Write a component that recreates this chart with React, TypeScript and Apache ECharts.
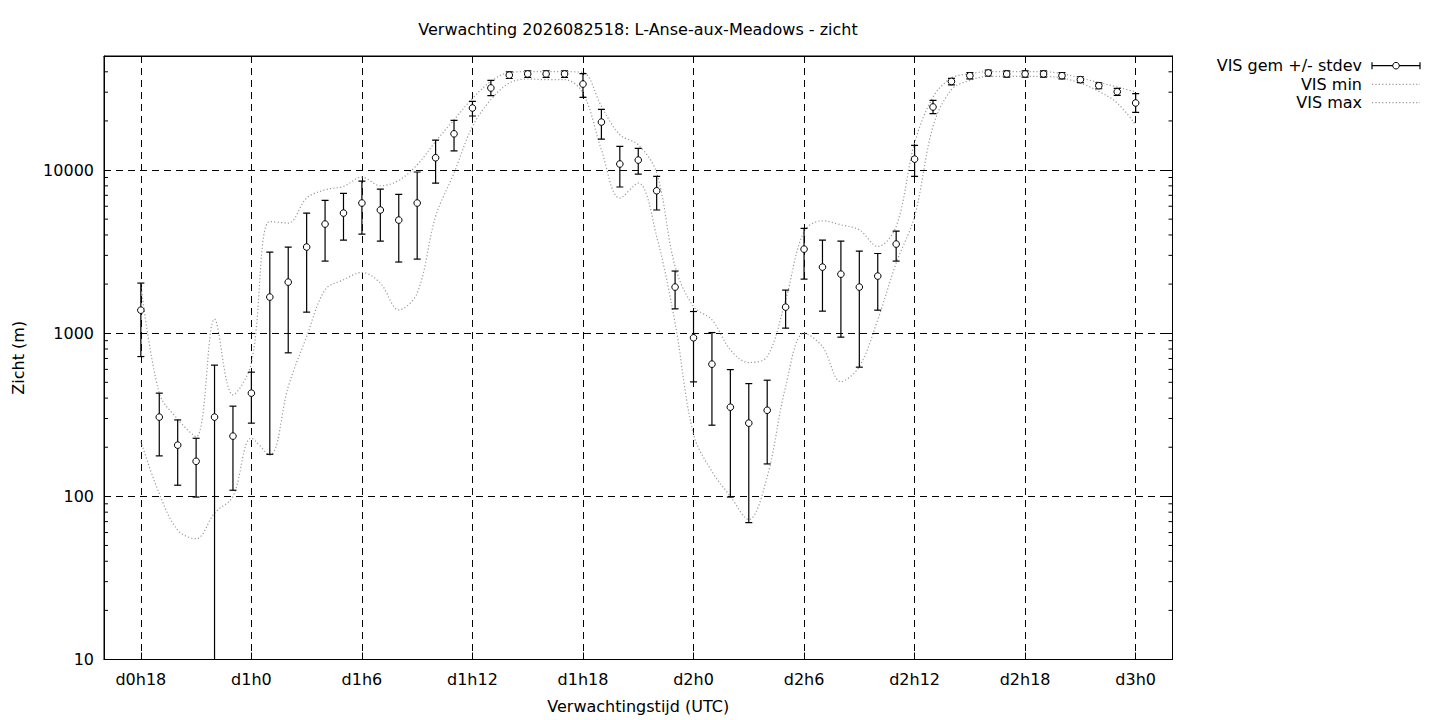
import React, { useEffect, useRef } from "react";
import * as echarts from "echarts";

// x axis categories: forecast hour since d0h0
const axisHours = [
  "16", "17", "18", "19", "20", "21", "22", "23", "24", "25", "26", "27", "28", "29", "30",
  "31", "32", "33", "34", "35", "36", "37", "38", "39", "40", "41", "42", "43", "44", "45",
  "46", "47", "48", "49", "50", "51", "52", "53", "54", "55", "56", "57", "58", "59", "60",
  "61", "62", "63", "64", "65", "66", "67", "68", "69", "70", "71", "72", "73", "74",
];

// hours that carry data
const hours = [
  "18", "19", "20", "21", "22", "23", "24", "25", "26", "27", "28", "29", "30", "31", "32",
  "33", "34", "35", "36", "37", "38", "39", "40", "41", "42", "43", "44", "45", "46", "47",
  "48", "49", "50", "51", "52", "53", "54", "55", "56", "57", "58", "59", "60", "61", "62",
  "63", "64", "65", "66", "67", "68", "69", "70", "71", "72",
];

// VIS mean
const visMean = [
  1384, 306, 206, 164, 306, 234, 429, 1665, 2056, 3373, 4666, 5447, 6277, 5688, 4934,
  6277, 11890, 16670, 23990, 31840, 38180, 38810, 38810, 38810, 33650, 19680, 10890, 11510, 7465, 1917,
  937, 646, 352, 281, 337, 1445, 3275, 2541, 2301, 1917, 2239, 3517, 11670, 24340, 34910,
  37860, 39360, 38800, 38800, 38800, 37860, 35800, 32880, 30200, 25760,
];

// mean - stdev
const visLow = [
  719, 177, 117, 99, -40, 109, 281, 181, 758, 1346, 2766, 3723, 4049, 3672, 2730,
  2845, 8311, 13120, 21440, 28560, 36400, 37000, 37000, 37000, 27870, 15490, 7869, 9447, 5688, 1410,
  503, 273, 99, 69, 158, 1074, 2145, 1365, 946, 619, 1384, 2766, 9141, 22140, 33300,
  36200, 37700, 37100, 37100, 37100, 36200, 34300, 31500, 28700, 22560,
];

// mean + stdev
const visHigh = [
  2028, 429, 294, 227, 637, 357, 577, 3141, 3373, 5447, 6514, 7195, 8551, 7638, 7087,
  9729, 15270, 20130, 26350, 35440, 40000, 40600, 40600, 40600, 38940, 23550, 13970, 13560, 9141, 2404,
  1358, 1009, 598, 491, 515, 1837, 4385, 3723, 3672, 3186, 3080, 4225, 14160, 26750, 36500,
  39500, 41000, 40500, 40500, 40500, 39500, 37300, 34200, 31700, 29380,
];

// VIS min
const visMin = [
  217, 104, 62, 55, 79, 100, 227, 179, 470, 954, 1845, 2124, 2355, 2028, 1390,
  1762, 5190, 9590, 18490, 26990, 34130, 36140, 35800, 35800, 29650, 13320, 6730, 8320, 3918, 1153,
  240, 142, 100, 72, 132, 471, 1000, 828, 505, 625, 1208, 2690, 5200, 18490, 31100,
  35440, 37500, 37500, 37500, 37500, 36650, 34130, 30340, 25760, 18970,
];

// VIS max
const visMax = [
  2000, 430, 297, 232, 1220, 419, 655, 4840, 4730, 6730, 7570, 7930, 9050, 8010, 8630,
  10770, 14970, 20320, 27500, 34900, 39640, 40070, 40070, 40070, 39640, 24550, 16450, 14290, 9590, 2565,
  1458, 1208, 791, 661, 719, 1602, 4203, 4887, 4616, 4303, 3399, 4508, 14640, 28000, 36650,
  38940, 40070, 40070, 40070, 40070, 38940, 36650, 34430, 32290, 30100,
];

// log-axis minor tick values
const yMinorTicks = [
  20, 30, 40, 50, 60, 70, 80, 90,
  200, 300, 400, 500, 600, 700, 800, 900,
  2000, 3000, 4000, 5000, 6000, 7000, 8000, 9000,
  20000, 30000, 40000,
];

const Y_MIN = 10;
const Y_MAX = 50000;

const titleText = "Verwachting 2026082518: L-Anse-aux-Meadows - zicht";
const xName = "Verwachtingstijd (UTC)";
const yName = "Zicht (m)";
const legendNames = ["VIS gem +/- stdev", "VIS min", "VIS max"];

export default function App() {
  const ref = useRef<HTMLDivElement>(null);

  useEffect(() => {
    if (!ref.current) return;
    const chart = echarts.init(ref.current, null, { renderer: "svg" });
    const font = "DejaVu Sans";
    const isMajor = (_i: number, v: string) => Number(v) % 6 === 0;
    const fmtHour = (v: string) => {
      const h = Number(v);
      return `d${Math.floor(h / 24)}h${h % 24}`;
    };
    const dotted = { color: "#9a9a9a", width: 1.2, type: [1.2, 2.2] as number[] };

    const errData = hours.map((h, i) => [h, visMean[i], visLow[i], visHigh[i]]);
    const minData = hours.map((h, i) => [h, visMin[i]]);
    const maxData = hours.map((h, i) => [h, visMax[i]]);
    const minorData = yMinorTicks.map((v) => [axisHours[0], v]);

    const legendY = [65.7, 84.3, 102.7];
    const lgX1 = 1372;
    const lgX2 = 1420;

    chart.setOption({
      animation: false,
      backgroundColor: "#fff",
      title: {
        text: titleText,
        left: 638,
        top: 21,
        padding: 0,
        textAlign: "center",
        textStyle: { fontFamily: font, fontSize: 16, fontWeight: "normal", color: "#000" },
      },
      grid: {
        left: 104,
        right: 267.5,
        top: 56,
        bottom: 60.5,
        show: true,
        borderColor: "#000",
        borderWidth: 1,
        backgroundColor: "transparent",
      },
      xAxis: [
        {
          type: "category",
          data: axisHours,
          boundaryGap: false,
          name: xName,
          nameLocation: "middle",
          nameGap: 39,
          nameTextStyle: { fontFamily: font, fontSize: 16, color: "#000" },
          axisLine: { show: true, lineStyle: { color: "#000", width: 1 } },
          axisTick: { show: true, inside: true, length: 7, interval: isMajor, lineStyle: { color: "#000" } },
          axisLabel: {
            interval: isMajor,
            formatter: fmtHour,
            margin: 12,
            fontFamily: font,
            fontSize: 16,
            color: "#000",
          },
          splitLine: { show: true, interval: isMajor, lineStyle: { color: "#000", width: 1, type: [7, 5] } },
        },
        {
          type: "category",
          data: axisHours,
          boundaryGap: false,
          position: "top",
          axisLine: { show: true, lineStyle: { color: "#000", width: 1 } },
          axisTick: { show: true, inside: true, length: 7, interval: isMajor, lineStyle: { color: "#000" } },
          axisLabel: { show: false },
          splitLine: { show: false },
        },
      ],
      yAxis: [
        {
          type: "log",
          logBase: 10,
          min: Y_MIN,
          max: Y_MAX,
          name: yName,
          nameLocation: "middle",
          nameGap: 78,
          nameTextStyle: { fontFamily: font, fontSize: 16, color: "#000" },
          axisLine: { show: true, lineStyle: { color: "#000", width: 1 } },
          axisTick: { show: true, inside: true, length: 7, lineStyle: { color: "#000" } },
          axisLabel: {
            showMaxLabel: false,
            margin: 10,
            fontFamily: font,
            fontSize: 16,
            color: "#000",
            formatter: (v: number) => String(Math.round(v)),
          },
          splitLine: { show: true, lineStyle: { color: "#000", width: 1, type: [7, 5] } },
        },
        {
          type: "log",
          logBase: 10,
          min: Y_MIN,
          max: Y_MAX,
          position: "right",
          axisLine: { show: true, lineStyle: { color: "#000", width: 1 } },
          axisTick: { show: true, inside: true, length: 7, lineStyle: { color: "#000" } },
          axisLabel: { show: false },
          splitLine: { show: false },
        },
      ],
      series: [
        {
          name: legendNames[1],
          type: "line",
          data: minData,
          smooth: 0.35,
          showSymbol: false,
          symbol: "none",
          lineStyle: dotted,
          silent: true,
          z: 2,
        },
        {
          name: legendNames[2],
          type: "line",
          data: maxData,
          smooth: 0.35,
          showSymbol: false,
          symbol: "none",
          lineStyle: dotted,
          silent: true,
          z: 2,
        },
        {
          name: legendNames[0],
          type: "custom",
          data: errData,
          clip: true,
          encode: { x: 0, y: [1, 2, 3] },
          z: 5,
          renderItem: (_params: any, api: any) => {
            const xi = api.value(0);
            const mean = api.value(1);
            const low = api.value(2);
            const high = api.value(3);
            const pm = api.coord([xi, mean]);
            const pl = api.coord([xi, low > 0 ? low : Y_MIN / 100]);
            const ph = api.coord([xi, high]);
            const cap = 3.5;
            const st = { stroke: "#000", lineWidth: 1.2, fill: null };
            return {
              type: "group",
              children: [
                { type: "line", shape: { x1: pm[0], y1: pl[1], x2: pm[0], y2: ph[1] }, style: st },
                { type: "line", shape: { x1: pm[0] - cap, y1: ph[1], x2: pm[0] + cap, y2: ph[1] }, style: st },
                { type: "line", shape: { x1: pm[0] - cap, y1: pl[1], x2: pm[0] + cap, y2: pl[1] }, style: st },
                {
                  type: "circle",
                  shape: { cx: pm[0], cy: pm[1], r: 3.3 },
                  style: { stroke: "#000", lineWidth: 1, fill: "#fff" },
                },
              ],
            };
          },
        },
        {
          name: "minor ticks",
          type: "custom",
          data: minorData,
          silent: true,
          z: 6,
          renderItem: (params: any, api: any) => {
            const y = api.coord([0, api.value(1)])[1];
            const cs = params.coordSys;
            const st = { stroke: "#000", lineWidth: 1 };
            return {
              type: "group",
              children: [
                { type: "line", shape: { x1: cs.x, y1: y, x2: cs.x + 4, y2: y }, style: st },
                { type: "line", shape: { x1: cs.x + cs.width - 4, y1: y, x2: cs.x + cs.width, y2: y }, style: st },
              ],
            };
          },
        },
      ],
      graphic: [
        {
          type: "text",
          x: 1362,
          y: legendY[0],
          style: {
            text: legendNames[0],
            fontFamily: font,
            fontSize: 16,
            fill: "#000",
            align: "right",
            verticalAlign: "middle",
          },
        },
        {
          type: "text",
          x: 1362,
          y: legendY[1],
          style: {
            text: legendNames[1],
            fontFamily: font,
            fontSize: 16,
            fill: "#000",
            align: "right",
            verticalAlign: "middle",
          },
        },
        {
          type: "text",
          x: 1362,
          y: legendY[2],
          style: {
            text: legendNames[2],
            fontFamily: font,
            fontSize: 16,
            fill: "#000",
            align: "right",
            verticalAlign: "middle",
          },
        },
        {
          type: "line",
          shape: { x1: lgX1, y1: legendY[0], x2: lgX2, y2: legendY[0] },
          style: { stroke: "#000", lineWidth: 1.2 },
        },
        {
          type: "line",
          shape: { x1: lgX1, y1: legendY[0] - 3.5, x2: lgX1, y2: legendY[0] + 3.5 },
          style: { stroke: "#000", lineWidth: 1.2 },
        },
        {
          type: "line",
          shape: { x1: lgX2, y1: legendY[0] - 3.5, x2: lgX2, y2: legendY[0] + 3.5 },
          style: { stroke: "#000", lineWidth: 1.2 },
        },
        {
          type: "circle",
          shape: { cx: (lgX1 + lgX2) / 2, cy: legendY[0], r: 3.3 },
          style: { stroke: "#000", lineWidth: 1, fill: "#fff" },
        },
        {
          type: "line",
          shape: { x1: lgX1, y1: legendY[1], x2: lgX2, y2: legendY[1] },
          style: { stroke: dotted.color, lineWidth: dotted.width, lineDash: dotted.type },
        },
        {
          type: "line",
          shape: { x1: lgX1, y1: legendY[2], x2: lgX2, y2: legendY[2] },
          style: { stroke: dotted.color, lineWidth: dotted.width, lineDash: dotted.type },
        },
      ],
    });

    return () => chart.dispose();
  }, []);

  return (
    <div
      ref={ref}
      style={{ position: "absolute", left: 0, top: 0, width: 1440, height: 720, background: "#fff" }}
    />
  );
}
